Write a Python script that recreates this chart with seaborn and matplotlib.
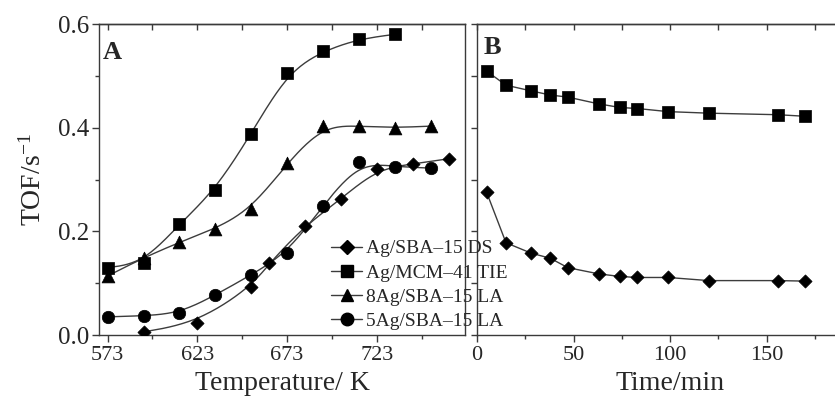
import numpy as np
import matplotlib
matplotlib.use("Agg")
import matplotlib.pyplot as plt
from matplotlib.lines import Line2D
from matplotlib.ticker import MultipleLocator
import seaborn as sns

# data
temp_mcm = [573, 593, 613, 633, 653, 673, 693, 713, 733]
tof_mcm = [0.130, 0.139, 0.214, 0.280, 0.388, 0.506, 0.548, 0.571, 0.580]

temp_8la = [573, 593, 613, 633, 653, 673, 693, 713, 733, 753]
tof_8la = [0.114, 0.149, 0.179, 0.205, 0.243, 0.331, 0.404, 0.403, 0.400, 0.403]

temp_5la = [573, 593, 613, 633, 653, 673, 693, 713, 733, 753]
tof_5la = [0.035, 0.037, 0.042, 0.077, 0.116, 0.158, 0.249, 0.333, 0.325, 0.322]

temp_ds = [593, 623, 653, 663, 683, 703, 723, 743, 763]
tof_ds = [0.006, 0.024, 0.093, 0.138, 0.211, 0.262, 0.320, 0.330, 0.340]

time_min = [5, 15, 28, 38, 47, 63, 74, 83, 99, 120, 156, 170]
tof_time_mcm = [0.509, 0.482, 0.471, 0.463, 0.459, 0.446, 0.439, 0.437, 0.431, 0.428, 0.425, 0.422]
tof_time_ds = [0.275, 0.178, 0.158, 0.148, 0.130, 0.118, 0.113, 0.111, 0.111, 0.105, 0.105, 0.104]

labels = ["Ag/SBA\u201315 DS", "Ag/MCM\u201341 TIE", "8Ag/SBA\u201315 LA", "5Ag/SBA\u201315 LA"]


def bspline(x, y, n=25):
    # uniform cubic B-spline using the points as control points (Origin style smoothing)
    px = np.r_[x[0], x[0], x, x[-1], x[-1]].astype(float)
    py = np.r_[y[0], y[0], y, y[-1], y[-1]].astype(float)
    t = np.linspace(0, 1, n)
    b0 = (1 - t) ** 3 / 6
    b1 = (3 * t**3 - 6 * t**2 + 4) / 6
    b2 = (-3 * t**3 + 3 * t**2 + 3 * t + 1) / 6
    b3 = t**3 / 6
    xs, ys = [], []
    for i in range(len(px) - 3):
        xs.append(b0 * px[i] + b1 * px[i + 1] + b2 * px[i + 2] + b3 * px[i + 3])
        ys.append(b0 * py[i] + b1 * py[i + 1] + b2 * py[i + 2] + b3 * py[i + 3])
    return np.concatenate(xs), np.concatenate(ys)


sns.set_style("ticks")
plt.rcParams["font.family"] = ["Liberation Serif", "DejaVu Serif"]
plt.rcParams["mathtext.default"] = "regular"

spine_col = "#3a3a3a"
line_col = "#3c3c3c"

fig = plt.figure(figsize=(8.35, 4.05), dpi=100)
ax1 = fig.add_axes([0.1186, 0.1728, 0.4383, 0.7679])
ax2 = fig.add_axes([0.5713, 0.1728, 0.4623, 0.7679])

# panel A: smoothed curves + markers
series_a = [
    (temp_ds, tof_ds, "D", 45),
    (temp_mcm, tof_mcm, "s", 75),
    (temp_8la, tof_8la, "^", 85),
    (temp_5la, tof_5la, "o", 80),
]
for xv, yv, mk, sz in series_a:
    xs, ys = bspline(xv, yv)
    sns.lineplot(x=xs, y=ys, ax=ax1, color=line_col, lw=1.0, sort=False, estimator=None)
    sns.scatterplot(x=xv, y=yv, ax=ax1, marker=mk, s=sz, color="black",
                    edgecolor="black", linewidth=0.5, zorder=3)

# panel B: straight segments
for yv, mk, sz in [(tof_time_mcm, "s", 75), (tof_time_ds, "D", 45)]:
    sns.lineplot(x=time_min, y=yv, ax=ax2, color=line_col, lw=1.0, sort=False, estimator=None)
    sns.scatterplot(x=time_min, y=yv, ax=ax2, marker=mk, s=sz, color="black",
                    edgecolor="black", linewidth=0.5, zorder=3)

# left panel axes
ax1.set_xlim(568.2, 772.2)
ax1.set_ylim(0, 0.6)
ax1.set_xticks([573, 623, 673, 723])
ax1.set_xticks([598, 648, 698, 748], minor=True)
ax1.yaxis.set_major_locator(MultipleLocator(0.2))
ax1.yaxis.set_minor_locator(MultipleLocator(0.1))
ax1.set_yticklabels([f"{v:.1f}" for v in ax1.get_yticks()])
ax1.tick_params(axis="x", which="major", direction="out", length=5, width=1, labelsize=16,
                color=spine_col, pad=3)
ax1.tick_params(axis="x", which="minor", direction="out", length=3, width=1, color=spine_col)
ax1.tick_params(axis="y", which="major", direction="out", length=5, width=1, labelsize=18,
                color=spine_col, pad=2)
ax1.tick_params(axis="y", which="minor", direction="out", length=3, width=1, color=spine_col)
top1 = ax1.secondary_xaxis("top")
top1.set_xticks(np.arange(573, 773, 25))
top1.tick_params(direction="in", length=4, width=1, labeltop=False, color=spine_col)
ax1.set_xlabel("Temperature/ K", fontsize=20, labelpad=4)
ax1.set_ylabel("TOF/s$^{-1}$", fontsize=20, labelpad=8)
ax1.text(0.01, 0.945, "A", transform=ax1.transAxes, fontsize=19, fontweight="bold", va="top")

# right panel axes
ax2.set_xlim(0, 200)
ax2.set_ylim(0, 0.6)
ax2.set_xticks([0, 50, 100, 150])
ax2.set_xticks([25, 75, 125, 175], minor=True)
ax2.yaxis.set_major_locator(MultipleLocator(0.1))
ax2.tick_params(axis="x", which="major", direction="out", length=5, width=1, labelsize=16,
                color=spine_col, pad=3)
ax2.tick_params(axis="x", which="minor", direction="out", length=3, width=1, color=spine_col)
ax2.tick_params(axis="y", direction="out", length=4, width=1, labelleft=False, color=spine_col)
top2 = ax2.secondary_xaxis("top")
top2.set_xticks(np.arange(0, 201, 25))
top2.tick_params(direction="in", length=4, width=1, labeltop=False, color=spine_col)
ax2.set_xlabel("Time/min", fontsize=20, labelpad=4)
ax2.set_ylabel("")
ax2.text(0.016, 0.96, "B", transform=ax2.transAxes, fontsize=19, fontweight="bold", va="top")

for ax in (ax1, ax2, top1, top2):
    for sp in ax.spines.values():
        sp.set_color(spine_col)
        sp.set_linewidth(1.0)

handles = [
    Line2D([0], [0], color=line_col, lw=1.0, marker=m, markersize=ms,
           markerfacecolor="black", markeredgecolor="black")
    for m, ms in [("D", 7), ("s", 8), ("^", 9), ("o", 9)]
]
fig.legend(handles, labels, loc="upper left", bbox_to_anchor=(0.397, 0.408),
           bbox_transform=fig.transFigure, frameon=False, fontsize=14,
           handlelength=1.55, handletextpad=0.25, labelspacing=0.34,
           borderpad=0, borderaxespad=0)

fig.savefig("out.png", dpi=100)
